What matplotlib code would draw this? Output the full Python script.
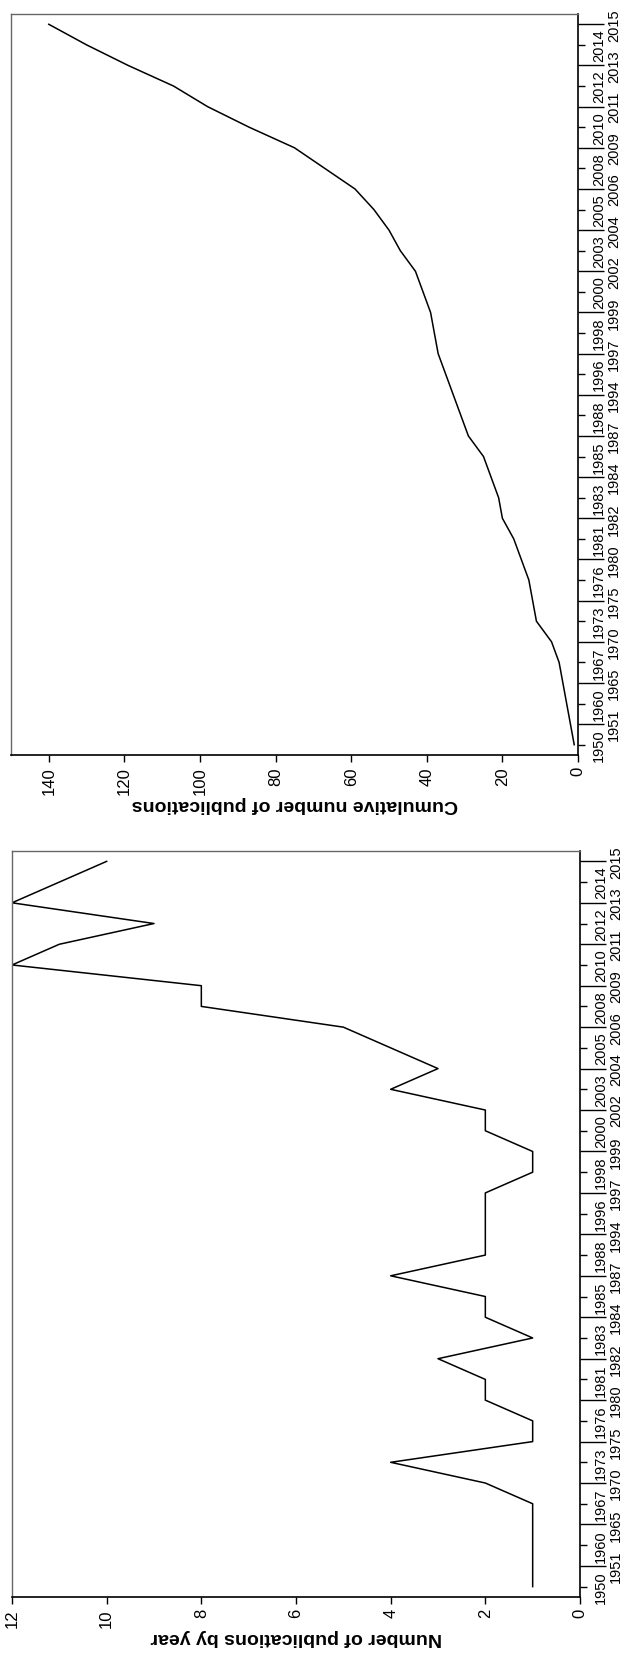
import numpy as np
import matplotlib
matplotlib.use('Agg')
import matplotlib.pyplot as plt

# year categories (not evenly spaced, one slot each)
years = [1950, 1951, 1960, 1965, 1967, 1970, 1973, 1975, 1976, 1980,
         1981, 1982, 1983, 1984, 1985, 1987, 1988, 1994, 1996, 1997,
         1998, 1999, 2000, 2002, 2003, 2004, 2005, 2006, 2008, 2009,
         2010, 2011, 2012, 2013, 2014, 2015]
per_year = [1, 1, 1, 1, 1, 2, 4, 1, 1, 2,
            2, 3, 1, 2, 2, 4, 2, 2, 2, 2,
            1, 1, 2, 2, 4, 3, 4, 5, 8, 8,
            12, 11, 9, 12, 11, 10]
cumulative = np.cumsum(per_year)

plt.rcParams['font.family'] = ['Liberation Sans', 'DejaVu Sans']

W, H = 628, 1658
fig = plt.figure(figsize=(W / 100, H / 100), dpi=100)


def panel(rect, values, xmax, xticks, label):
    ax = fig.add_axes(rect)
    pos = np.arange(len(years))
    ax.plot(values, pos, color='black', lw=1.1)
    ax.set_xlim(xmax, 0)
    ax.set_ylim(-0.5, len(years) - 0.5)

    ax.set_xticks(xticks, labels=[str(t) for t in xticks])
    ax.tick_params(axis='x', labelrotation=90, length=5, width=1,
                   direction='out', pad=3, labelsize=12)

    ax.yaxis.tick_right()
    ax.set_yticks(pos[::2], labels=[str(y) for y in years[::2]])
    ax.set_yticks(pos[1::2], labels=[str(y) for y in years[1::2]], minor=True)
    ax.tick_params(axis='y', which='major', length=5, width=1, pad=5,
                   labelsize=10.5, labelrotation=90)
    ax.tick_params(axis='y', which='minor', length=19, width=1, pad=2,
                   labelsize=10.5, labelrotation=90)
    for t in ax.get_yticklabels(which='both'):
        t.set_va('center')

    for s in ('top', 'left'):
        ax.spines[s].set_color('#666666')
        ax.spines[s].set_linewidth(1)
    for s in ('bottom', 'right'):
        ax.spines[s].set_color('black')
        ax.spines[s].set_linewidth(1.2)

    ax.set_xlabel(label, rotation=180, fontsize=14, fontweight='bold',
                  labelpad=1)
    return ax


# upper panel: cumulative, lower panel: by year
panel([11 / W, 1 - 756 / H, 567 / W, 741 / H], cumulative, 150,
      list(range(0, 141, 20)), 'Cumulative number of publications')
panel([12 / W, 1 - 1598 / H, 568 / W, 746 / H], per_year, 12,
      list(range(0, 13, 2)), 'Number of publications by year')

fig.savefig('out.png', dpi=100)
